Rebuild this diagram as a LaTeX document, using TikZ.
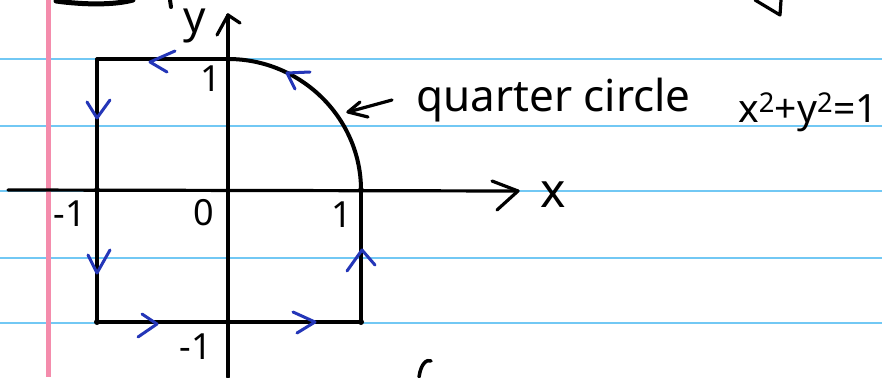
\documentclass[tikz,border=0pt]{standalone}
\usepackage{fontspec}
\setmainfont{Noto Sans}
\definecolor{ruleblue}{HTML}{72C8F4}
\definecolor{marginpink}{HTML}{F48CAC}
\definecolor{inkblue}{HTML}{2436B8}
\begin{document}
\begin{tikzpicture}[x=1pt,y=-1pt,
  rule/.style={draw=ruleblue,line width=2.6pt},
  pen/.style={draw=black,line width=3.2pt,line cap=round,line join=round},
  chev/.style={draw=inkblue,line width=3pt,line cap=round,line join=round},
  lbl/.style={font=\fontsize{36}{36}\selectfont,inner sep=0pt},
  big/.style={font=\fontsize{44}{44}\selectfont,inner sep=0pt,anchor=base west}]
\useasboundingbox (0,0) rectangle (882,377);
\fill[white] (0,0) rectangle (882,377);
% ruled paper
\foreach \yy in {59,126,191,258,323} \draw[rule] (0,\yy) -- (882,\yy);
\draw[draw=marginpink,line width=5pt] (48,0) -- (48,377);
% coordinates
\coordinate (TL) at (97,59);
\coordinate (TY) at (228,59);
\coordinate (R) at (361,190);
\coordinate (BR) at (361,322);
\coordinate (BL) at (97,322);
\coordinate (BY) at (228,322);
\coordinate (LX) at (97,190);
\coordinate (xs) at (8,190);
\coordinate (xe) at (518,191);
\coordinate (ys) at (228,377);
\coordinate (ye) at (228,15);
% axes
\draw[pen] (xs) -- (xe);
\draw[pen] (492,181) -- (xe) -- (497,210);
\draw[pen] (ys) -- (ye);
\draw[pen] (217,35) -- (ye) -- (240,23);
% contour
\draw[pen] (TY) -- (TL) -- (BL) -- (BR) -- (R);
\draw[pen,line width=4pt] (R) .. controls (361,118) and (301,59) .. (TY);
\foreach \p in {BL,BR,R,BY,LX} \fill (\p) circle (3pt);
% direction chevrons
\draw[chev] (175,51) -- (150,62) -- (167,72);
\draw[chev] (87,102) -- (97,118) -- (110,100);
\draw[chev] (310,72) -- (287,73) -- (295,89);
\draw[chev] (88,255) -- (97,273) -- (110,250);
\draw[chev] (142,314) -- (157,324) -- (138,337);
\draw[chev] (293,312) -- (315,322) -- (297,333);
\draw[chev] (347,271) -- (362,250) -- (375,265);
% annotation arrow
\coordinate (as) at (392,100);
\coordinate (ae) at (348,112);
\draw[pen] (as) -- (ae);
\draw[pen] (360,102) -- (ae) -- (368,117);
% labels
\node[lbl] (one) at (211,79) {1};
\node[lbl] (mone) at (70,214) {-1};
\node[lbl] (zero) at (204,213) {0};
\node[lbl] (onex) at (342,215) {1};
\node[lbl] (money) at (196,347) {-1};
\node[font=\fontsize{48}{48}\selectfont,inner sep=0pt] (xl) at (553,195) {x};
\node[font=\fontsize{44}{44}\selectfont,inner sep=0pt] (yl) at (195,26) {y};
\node[big] (qc) at (416,111) {quarter circle};
\node[big,font=\fontsize{39}{39}\selectfont,anchor=base east] (eq) at (878,122) {x\textsuperscript{2}+y\textsuperscript{2}=1};
% scraps of other writing
\draw[pen,line width=5pt] (56,1) .. controls (85,5) and (115,5) .. (133,0);
\draw[pen,line width=4pt] (170,0) -- (171,7);
\draw[pen] (755,0) -- (780,15) -- (781,0);
\draw[pen,line width=3.5pt] (419,377) .. controls (421,363) and (427,359) .. (431,361);
\end{tikzpicture}
\end{document}
